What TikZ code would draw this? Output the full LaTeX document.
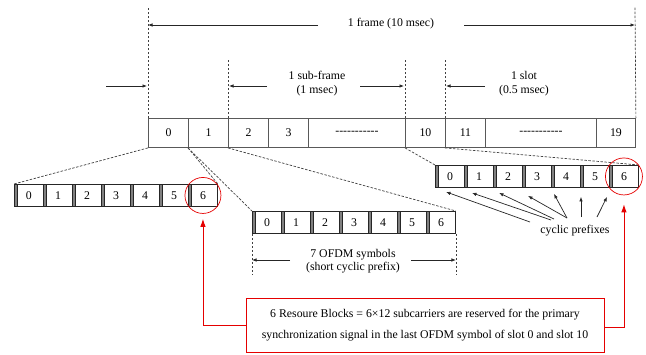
\documentclass[tikz,border=0pt]{standalone}
\usepackage{fontspec}
\setmainfont{Liberation Serif}
\newfontfamily\nolig{Liberation Serif}[Ligatures=TeXOff]
\usetikzlibrary{arrows.meta}
\begin{document}
\begin{tikzpicture}[x=1pt,y=-1pt,
 font=\fontsize{11.8}{13}\selectfont,
 slotbox/.style={draw=black!65, line width=0.9pt, minimum height=29pt, inner sep=0pt, anchor=north west},
 sym/.style={draw=black!85, line width=0.9pt, minimum width=29pt, minimum height=22pt, inner sep=0pt, anchor=north west,
   path picture={\fill[black!50] (path picture bounding box.south west) rectangle ([xshift=3pt]path picture bounding box.north west);
     \draw[black!85, line width=0.7pt] ([xshift=3pt]path picture bounding box.south west) -- ([xshift=3pt]path picture bounding box.north west);}},
 dl/.style={draw=black!75, line width=0.7pt, dash pattern=on 2.5pt off 1.5pt},
 arr/.style={draw=black!85, line width=0.7pt, -{Latex[length=4.5pt,width=3.5pt]}},
 redarr/.style={draw=red!90!black, line width=0.9pt, -{Latex[length=8pt,width=5.5pt]}},
 lbl/.style={align=center, inner sep=0pt},
]
\useasboundingbox (0,0) rectangle (646,354);
% top row of slots
\foreach \n/\x/\w/\t in {s0/148/40/0, s1/188/40/1, s2/228/40/2, s3/268/40/3, sd1/308/97/{\nolig-----------}, s10/405/40/10, s11/445/40/11, sd2/485/111/{\nolig-----------}, s19/596/39/19}
  \node[slotbox, minimum width=\w pt] (\n) at (\x,118) {\t};
% OFDM symbol groups
\foreach \i in {0,...,6} {
  \node[sym] (L\i) at (14+29*\i,184) {\i};
  \node[sym] (M\i) at (252+29*\i,211) {\i};
  \node[sym] (R\i) at (435+29*\i,165) {\i};
}
% frame dimension
\coordinate (fl) at (148,7);
\coordinate (fr) at (635,7);
\draw[dl] (s0.north west) -- (fl);
\draw[dl] (s19.north east) -- (fr);
\node[lbl] (frame) at (391,24) {1 frame (10 msec)};
\draw[arr] (318,25) -- (148,25);
\draw[arr] (464,25) -- (635,25);
% sub-frame and slot
\draw[dl] (s2.north west) -- ++(0,-60);
\draw[dl] (s10.north west) -- ++(0,-60);
\draw[dl] (s11.north west) -- ++(0,-60);
\node[lbl] (sub) at (317,84) {1 sub-frame\\[1pt](1 msec)};
\node[lbl] (slot) at (524,84) {1 slot\\[1pt](0.5 msec)};
\draw[arr] (106,86) -- (147,86);
\draw[arr] (267,86) -- (229,86);
\draw[arr] (360,86) -- (404,86);
\draw[arr] (485,86) -- (446,86);
% zoom lines
\draw[dl] (s0.south west) -- (L0.north west);
\draw[dl] (s1.south west) -- (L6.north east);
\draw[dl] (s1.south west) -- (M0.north west);
\draw[dl] (s2.south west) -- (M6.north east);
\draw[dl] (s10.south west) -- (R0.north west);
\draw[dl] (s11.south west) -- (R6.north east);
% 7 OFDM symbols
\draw[dl] (M0.south west) -- ++(0,41);
\draw[dl] (M6.south east) -- ++(0,41);
\node[lbl] (ofdm) at (353,261) {7 OFDM symbols\\(short cyclic prefix)};
\draw[arr] (290,260) -- (M0.south west |- 0,260);
\draw[arr] (411,260) -- (M6.south east |- 0,260);
% cyclic prefixes
\node[lbl] (cp) at (575,231) {cyclic prefixes};
\draw[arr] (530,222) -- ([shift={(11,4)}]R0.south west);
\draw[arr] (551,220) -- ([shift={(8,5)}]R1.south west);
\draw[arr] (554,219) -- ([shift={(6,5)}]R2.south west);
\draw[arr] (567,218) -- ([shift={(6,8)}]R3.south west);
\draw[arr] (567,218) -- ([shift={(3,6)}]R4.south west);
\draw[arr] (581,217) -- ([shift={(1,9)}]R5.south west);
\draw[arr] (597,217) -- ([shift={(-2,9)}]R6.south west);
% circles
\node[draw=red!90!black, line width=0.7pt, circle, minimum size=36pt, inner sep=0pt] (cL) at (L6.center) {};
\node[draw=red!90!black, line width=0.7pt, circle, minimum size=37pt, inner sep=0pt] (cR) at (R6.center) {};
% note box
\node[draw=red!90!black, line width=0.9pt, minimum width=358pt, minimum height=54pt, align=center, inner sep=0pt,
  font=\fontsize{11.8}{21.5}\selectfont] (box) at (425,325)
  {6 Resoure Blocks = 6×12 subcarriers are reserved for the primary\\synchronization signal in the last OFDM symbol of slot 0 and slot 10};
\draw[redarr] (box.west) -| ([yshift=-5pt]cL.south);
\draw[redarr] ([yshift=-2pt]box.east) -| ([yshift=-9pt]cR.south);
\end{tikzpicture}
\end{document}
